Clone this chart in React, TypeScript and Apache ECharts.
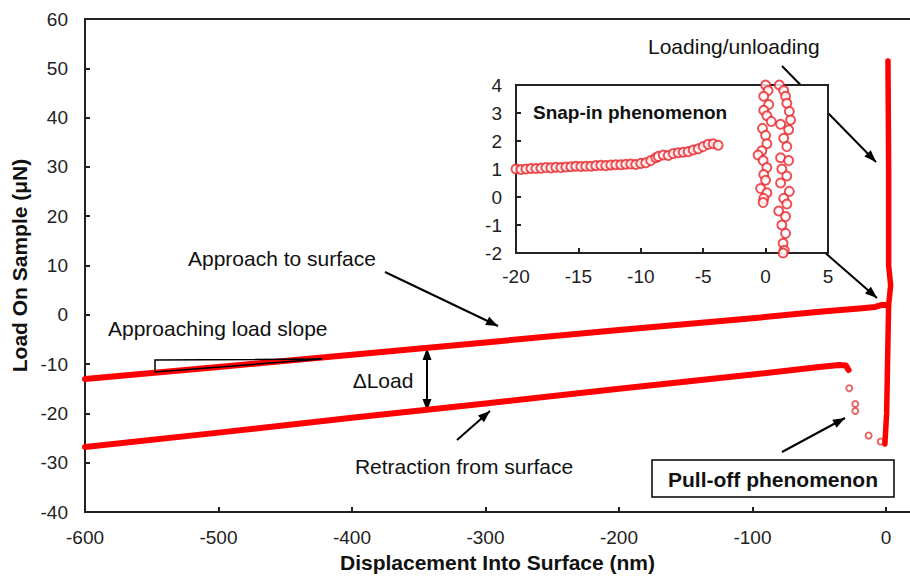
import React, { useEffect, useRef } from "react";
import * as echarts from "echarts";

// ---- Main chart data ----
const approachX = [-600, -500, -400, -300, -200, -100, -50, -20, -8, -3, 0.5];
const approachY = [-13.0, -10.6, -8.1, -5.6, -3.1, -0.7, 0.6, 1.3, 1.6, 2.0, 2.0];

const retractX = [-600, -500, -400, -300, -200, -100, -50, -35, -30, -28];
const retractY = [-26.8, -23.9, -20.9, -18.0, -15.0, -12.1, -10.6, -10.2, -10.3, -11.2];

const loadX = [-0.8, 0.5, 1.5, 2, 3.5, 2, 2, 1.5];
const loadY = [-26.2, -20, -5, 2, 6, 10, 30, 51.5];

const pullOffX = [-27.5, -23, -23, -13, -4];
const pullOffY = [-14.9, -18.1, -19.5, -24.5, -25.7];

const mainXTicks = { min: -600, max: 18, interval: 100 };
const mainYTicks = { min: -40, max: 60, interval: 10 };

// ---- Inset data ----
const snapX = [-20, -19.6, -19.2, -18.8, -18.4, -18, -17.6, -17.2, -16.8, -16.4, -16, -15.6, -15.2, -14.8, -14.4, -14, -13.6, -13.2, -12.8, -12.4, -12, -11.6, -11.2, -10.8, -10.4, -10, -9.6, -9.2, -8.8, -8.6, -8.2, -7.8, -7.4, -7, -6.6, -6.2, -5.8, -5.4, -5, -4.6, -4.2, -3.8];
const snapY = [1.0, 0.98, 1.0, 1.02, 1.02, 1.03, 1.05, 1.04, 1.06, 1.05, 1.07, 1.08, 1.1, 1.09, 1.1, 1.1, 1.12, 1.13, 1.12, 1.14, 1.15, 1.15, 1.17, 1.18, 1.16, 1.2, 1.22, 1.3, 1.4, 1.45, 1.5, 1.48, 1.55, 1.58, 1.6, 1.62, 1.68, 1.72, 1.8, 1.88, 1.9, 1.85];

const loadInX = [0, 0.2, -0.15, 0.25, -0.15, 0.1, 0.45, -0.25, 0, 0.1, -0.3, -0.6, -0.2, 0.1, -0.15, 0, -0.4, 0.1, -0.15, -0.2];
const loadInY = [4, 3.8, 3.6, 3.3, 3.1, 2.9, 2.7, 2.45, 2.2, 1.9, 1.65, 1.5, 1.3, 1.05, 0.8, 0.6, 0.3, 0.15, -0.05, -0.2];

const unloadInX = [1.1, 1.45, 1.6, 1.7, 1.9, 2.0, 1.2, 1.85, 1.45, 1.7, 1.2, 1.85, 1.3, 1.7, 1.2, 1.9, 1.45, 1.7, 1.05, 1.6, 1.3, 1.6, 1.4, 1.5, 1.4];
const unloadInY = [4, 3.8, 3.6, 3.35, 3.05, 2.75, 2.6, 2.4, 2.1, 1.8, 1.4, 1.3, 1.0, 0.75, 0.5, 0.2, -0.05, -0.25, -0.5, -0.7, -1.0, -1.3, -1.65, -1.9, -2.0];

const insetXTicks = { min: -20, max: 5, interval: 5 };
const insetYTicks = { min: -2, max: 4, interval: 1 };

const zip = (xs: number[], ys: number[]) => xs.map((x, i) => [x, ys[i]]);

const FONT = "'Liberation Sans', Arial, sans-serif";

function arrow(x1: number, y1: number, x2: number, y2: number, both = false) {
  const L = 12, W = 4.5;
  const ang = Math.atan2(y2 - y1, x2 - x1);
  const head = (px: number, py: number, a: number) => {
    const bx = px - L * Math.cos(a), by = py - L * Math.sin(a);
    return {
      type: "polygon",
      shape: {
        points: [
          [px, py],
          [bx + W * Math.sin(a), by - W * Math.cos(a)],
          [bx - W * Math.sin(a), by + W * Math.cos(a)],
        ],
      },
      style: { fill: "#000" },
    };
  };
  const children: any[] = [
    { type: "line", shape: { x1, y1, x2, y2 }, style: { stroke: "#000", lineWidth: 2 } },
    head(x2, y2, ang),
  ];
  if (both) children.push(head(x1, y1, ang + Math.PI));
  return { type: "group", children, z: 100 };
}

function txt(x: number, y: number, text: string, size: number, bold = false, align = "left") {
  return {
    type: "text",
    x,
    y,
    z: 101,
    style: {
      text,
      fontSize: size,
      fontFamily: FONT,
      fontWeight: bold ? "bold" : "normal",
      fill: "#111",
      textAlign: align,
      textVerticalAlign: "middle",
    },
  };
}

export default function App() {
  const ref = useRef<HTMLDivElement>(null);
  useEffect(() => {
    if (!ref.current) return;
    const chart = echarts.init(ref.current, null, { renderer: "svg" });
    const axisLine = { show: true, onZero: false, lineStyle: { color: "#222", width: 2 } };
    const axisTick = { show: true, inside: true, length: 5, lineStyle: { color: "#222", width: 2 } };
    const labelStyle = { color: "#222", fontSize: 19, fontFamily: FONT };
    const option: any = {
      animation: false,
      backgroundColor: "#fff",
      grid: [
        { left: 85, top: 19, width: 825, height: 493, containLabel: false },
        {
          left: 516, top: 85, width: 312, height: 168, show: true,
          borderColor: "#222", borderWidth: 2, backgroundColor: "#fff", z: 5,
        },
      ],
      xAxis: [
        {
          gridIndex: 0, type: "value", ...mainXTicks,
          axisLine, axisTick, splitLine: { show: false },
          axisLabel: {
            ...labelStyle, margin: 16, showMaxLabel: false,
            formatter: (v: number) => (v % 100 === 0 ? String(v) : ""),
          },
          name: "Displacement Into Surface (nm)", nameLocation: "middle", nameGap: 40,
          nameTextStyle: { fontSize: 21, fontWeight: "bold", fontFamily: FONT, color: "#111" },
        },
        {
          gridIndex: 0, type: "value", position: "top", ...mainXTicks,
          axisLine, axisTick: { show: false }, axisLabel: { show: false }, splitLine: { show: false },
        },
        {
          gridIndex: 1, type: "value", ...insetXTicks, z: 6,
          axisLine, axisTick, splitLine: { show: false },
          axisLabel: { ...labelStyle, margin: 14 },
        },
      ],
      yAxis: [
        {
          gridIndex: 0, type: "value", ...mainYTicks,
          axisLine, axisTick, splitLine: { show: false },
          axisLabel: { ...labelStyle, margin: 17 },
          name: "Load On Sample (μN)", nameLocation: "middle", nameGap: 48,
          nameTextStyle: { fontSize: 21, fontWeight: "bold", fontFamily: FONT, color: "#111" },
        },
        {
          gridIndex: 1, type: "value", ...insetYTicks, z: 6,
          axisLine, axisTick, splitLine: { show: false },
          axisLabel: { ...labelStyle, margin: 14 },
        },
      ],
      series: [
        {
          type: "line", xAxisIndex: 0, yAxisIndex: 0, data: zip(approachX, approachY),
          symbol: "none", lineStyle: { color: "#ff0000", width: 6, cap: "round", join: "round" },
        },
        {
          type: "line", xAxisIndex: 0, yAxisIndex: 0, data: zip(retractX, retractY),
          symbol: "none", lineStyle: { color: "#ff0000", width: 6, cap: "round", join: "round" },
        },
        {
          type: "line", xAxisIndex: 0, yAxisIndex: 0, data: zip(loadX, loadY),
          symbol: "none", lineStyle: { color: "#ff0000", width: 5.5, cap: "round", join: "round" },
        },
        {
          type: "scatter", xAxisIndex: 0, yAxisIndex: 0, data: zip(pullOffX, pullOffY),
          symbol: "emptyCircle", symbolSize: 6, itemStyle: { color: "#e04545", borderWidth: 1 },
        },
        {
          type: "scatter", xAxisIndex: 2, yAxisIndex: 1, data: zip(snapX, snapY), z: 7,
          symbol: "emptyCircle", symbolSize: 9, itemStyle: { color: "#e8262a", borderWidth: 1.4 },
        },
        {
          type: "scatter", xAxisIndex: 2, yAxisIndex: 1, data: zip(loadInX, loadInY), z: 7,
          symbol: "emptyCircle", symbolSize: 9, itemStyle: { color: "#e8262a", borderWidth: 1.4 },
        },
        {
          type: "scatter", xAxisIndex: 2, yAxisIndex: 1, data: zip(unloadInX, unloadInY), z: 7,
          symbol: "emptyCircle", symbolSize: 9, itemStyle: { color: "#e8262a", borderWidth: 1.4 },
        },
      ],
      graphic: [
        txt(533, 112, "Snap-in phenomenon", 19, true),
        txt(648, 46, "Loading/unloading", 21),
        arrow(782, 66, 876, 162),
        arrow(776, 210, 877, 298),
        txt(188, 258, "Approach to surface", 21),
        arrow(385, 272, 498, 326),
        txt(108, 328, "Approaching load slope", 21),
        {
          type: "polygon", z: 100,
          shape: { points: [[155, 360], [322, 359], [155, 372]] },
          style: { fill: "none", stroke: "#000", lineWidth: 1.5 },
        },
        arrow(427, 348, 427, 411, true),
        txt(383, 380, "ΔLoad", 21, false, "center"),
        txt(464, 466, "Retraction from surface", 21, false, "center"),
        arrow(457, 440, 490, 411),
        {
          type: "rect", z: 100,
          shape: { x: 652, y: 460, width: 242, height: 37 },
          style: { fill: "#fff", stroke: "#000", lineWidth: 1.5 },
        },
        txt(773, 479, "Pull-off phenomenon", 21, true, "center"),
        arrow(782, 452, 845, 418),
      ],
    };
    chart.setOption(option);
    return () => chart.dispose();
  }, []);
  return (
    <div
      ref={ref}
      style={{ position: "fixed", left: 0, top: 0, width: 910, height: 578 }}
    />
  );
}
